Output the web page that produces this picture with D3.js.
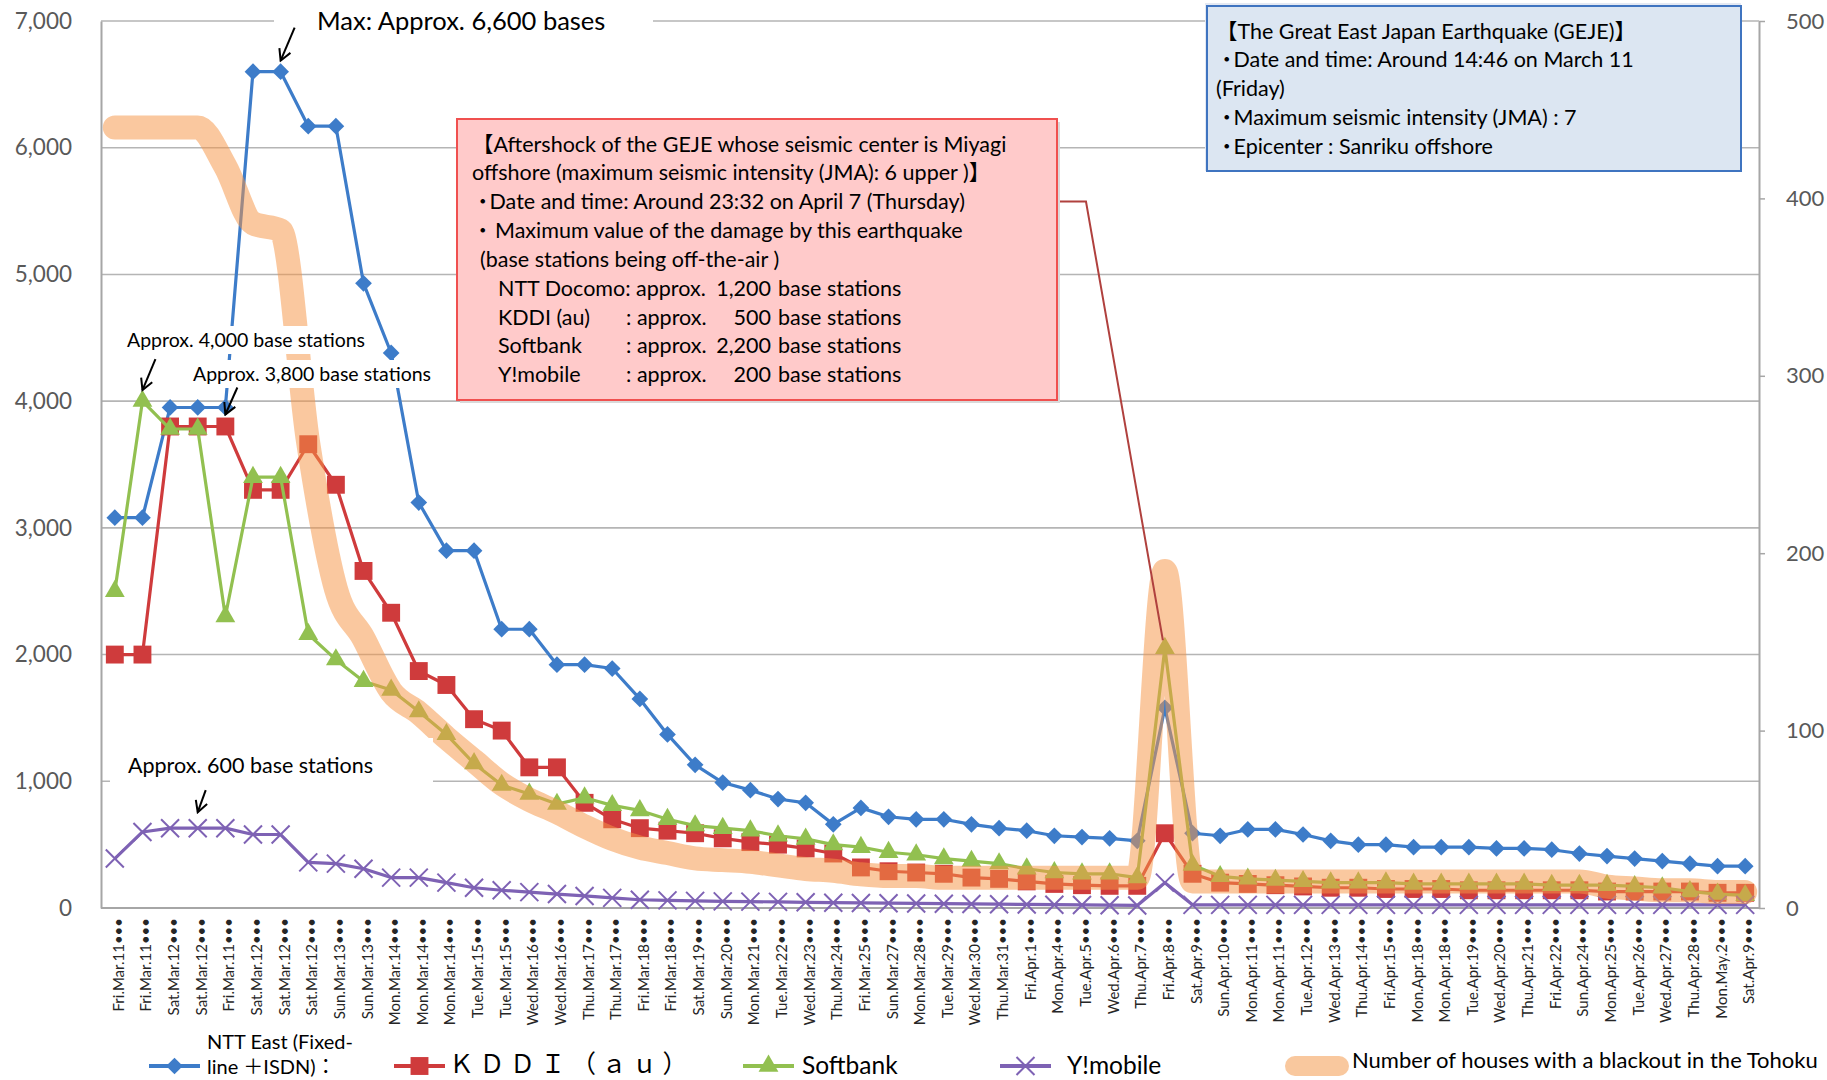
<!DOCTYPE html>
<html>
<head>
<meta charset="utf-8">
<script src="https://cdn.jsdelivr.net/npm/d3@7"></script>
<style>
  body { margin: 0; background: #fff; }
  svg text { font-family: Lato, "Noto Sans CJK JP", sans-serif; }
</style>
</head>
<body>
<svg id="chart" width="1827" height="1080"></svg>
<script>
// categories (as printed on the original x axis, duplicates included)
var dates = ["Fri.Mar.11","Fri.Mar.11","Sat.Mar.12","Sat.Mar.12","Fri.Mar.11","Sat.Mar.12","Sat.Mar.12","Sat.Mar.12",
  "Sun.Mar.13","Sun.Mar.13","Mon.Mar.14","Mon.Mar.14","Mon.Mar.14","Tue.Mar.15","Tue.Mar.15","Wed.Mar.16","Wed.Mar.16",
  "Thu.Mar.17","Thu.Mar.17","Fri.Mar.18","Fri.Mar.18","Sat.Mar.19","Sun.Mar.20","Mon.Mar.21","Tue.Mar.22","Wed.Mar.23",
  "Thu.Mar.24","Fri.Mar.25","Sun.Mar.27","Mon.Mar.28","Tue.Mar.29","Wed.Mar.30","Thu.Mar.31","Fri.Apr.1","Mon.Apr.4",
  "Tue.Apr.5","Wed.Apr.6","Thu.Apr.7","Fri.Apr.8","Sat.Apr.9","Sun.Apr.10","Mon.Apr.11","Mon.Apr.11","Tue.Apr.12",
  "Wed.Apr.13","Thu.Apr.14","Fri.Apr.15","Mon.Apr.18","Mon.Apr.18","Tue.Apr.19","Wed.Apr.20","Thu.Apr.21","Fri.Apr.22",
  "Sun.Apr.24","Mon.Apr.25","Tue.Apr.26","Wed.Apr.27","Thu.Apr.28","Mon.May.2","Sat.Apr.9"];

// base stations out of service (left axis)
var nttEast = [3080,3080,3950,3950,3950,6600,6600,6170,6170,4930,
  4380,3200,2820,2820,2200,2200,1920,1920,1890,1650,
  1370,1130,990,930,860,830,660,790,720,700,
  700,660,630,610,570,560,550,530,1580,590,
  570,620,620,580,530,500,500,480,480,480,
  470,470,460,430,410,390,370,350,330,330];
var kddi = [2000,2000,3800,3800,3800,3300,3300,3660,3340,2660,
  2330,1870,1760,1490,1400,1110,1110,830,700,630,
  610,590,550,520,500,470,430,320,290,280,
  270,240,230,210,190,180,175,175,590,270,
  200,190,180,170,160,160,150,150,150,140,
  140,140,140,140,130,130,130,130,120,120];
var softbank = [2500,4000,3780,3780,2300,3400,3400,2160,1960,1790,
  1720,1550,1370,1140,970,900,820,870,810,770,
  700,650,630,610,570,545,500,480,440,420,
  390,370,350,310,280,270,270,240,2050,340,
  250,230,220,210,200,200,200,190,190,190,
  190,190,180,180,180,170,160,130,110,100];
var ymobile = [390,600,630,630,630,580,580,360,350,310,
  240,240,200,160,140,125,110,95,80,65,
  60,56,52,50,48,45,42,40,38,36,
  34,32,30,28,26,24,22,20,200,25,
  25,25,25,25,25,25,25,25,25,25,
  25,25,25,25,25,25,25,25,25,25];

// houses with a blackout in Tohoku (right axis, 10,000 houses)
var blackout = [440,440,440,440,418,386,382,262,180,152,
  122,110,96,83,70,61,54,46,39,34,
  31,28,27,26,24,22,21,19,18,18,
  17,17,17,17,17,17,17,17,190,15,
  15,15,15,15,15,15,15,15,15,15,
  15,15,15,15,12,11,10,10,9,9];

var leftTicks = [0,1000,2000,3000,4000,5000,6000,7000];
var rightTicks = [0,100,200,300,400,500];

var seriesNames = ["NTT East", "KDDI", "Softbank", "Y!mobile"];
var seriesColors = ["#3d7cc9", "#cf3b3c", "#92c050", "#7e62b4"];
var bandColor = "#f59646";

var gejeLines = ["【The Great East Japan Earthquake (GEJE)】",
  "・Date and time: Around 14:46 on March 11",
  "(Friday)",
  "・Maximum seismic intensity (JMA) : 7",
  "・Epicenter : Sanriku offshore"];
var shockLines = ["【Aftershock of the GEJE whose seismic center is Miyagi",
  "offshore (maximum seismic intensity (JMA): 6 upper )】",
  "・Date and time: Around 23:32 on April 7 (Thursday)",
  "・ Maximum value of the damage by this earthquake",
  " (base stations being off-the-air )"];
var shockCarriers = ["NTT Docomo: approx.", "KDDI (au)", "Softbank", "Y!mobile"];
var shockCounts = ["1,200", "500", "2,200", "200"];

var svg = d3.select("#chart");
var plot = { left: 101, right: 1759, top: 21, bottom: 908 };

function translate(x, y) { return "translate(" + x + "," + y + ")"; }

// leading "・" is a full-width glyph; pull the following text in a little
function boxText(sel, s) {
  if (s.charAt(0) === "・") {
    sel.append("tspan").style("letter-spacing", "-4px").text("・");
    sel.append("tspan").text(s.slice(1));
  } else {
    sel.text(s);
  }
}

var x = d3.scaleBand().domain(d3.range(dates.length)).range([plot.left, plot.right]);
function xc(i) { return x(i) + x.bandwidth() / 2; }
var yL = d3.scaleLinear().domain([0, 7000]).range([plot.bottom, plot.top]);
var yR = d3.scaleLinear().domain([0, 500]).range([plot.bottom, plot.top]);

svg.append("rect").attr("width", 1827).attr("height", 1080).attr("fill", "#fff");

// gridlines
svg.append("g").selectAll("line")
  .data(leftTicks.filter(function(d) { return d > 0; }))
  .join("line")
  .attr("x1", plot.left).attr("x2", plot.right)
  .attr("y1", function(d) { return yL(d); }).attr("y2", function(d) { return yL(d); })
  .attr("stroke", "#b5b5b5").attr("stroke-width", 1.6);

// left axis
var gL = svg.append("g").attr("transform", translate(plot.left, 0))
  .call(d3.axisLeft(yL).tickValues(leftTicks).tickFormat(d3.format(",")).tickSize(0).tickPadding(29));
gL.select(".domain").attr("stroke", "#a6a6a6").attr("stroke-width", 2);
gL.selectAll("text").attr("fill", "#595959").style("font-size", "22.5px");

// right axis
var gR = svg.append("g").attr("transform", translate(plot.right, 0))
  .call(d3.axisRight(yR).tickValues(rightTicks).tickSize(6).tickSizeOuter(0).tickPadding(21));
gR.select(".domain").attr("stroke", "#a6a6a6").attr("stroke-width", 2);
gR.selectAll("line").attr("stroke", "#a6a6a6").attr("stroke-width", 1.5);
gR.selectAll("text").attr("fill", "#595959").style("font-size", "22px");

// bottom axis line
svg.append("line")
  .attr("x1", plot.left).attr("x2", plot.right)
  .attr("y1", yL(0)).attr("y2", yL(0))
  .attr("stroke", "#a6a6a6").attr("stroke-width", 2);

// x labels
svg.append("g").selectAll("text")
  .data(dates)
  .join("text")
  .attr("transform", function(d, i) { return translate(xc(i) + 9, 918) + " rotate(-90)"; })
  .attr("text-anchor", "end")
  .attr("fill", "#262626")
  .style("font-size", "15px")
  .text(function(d) { return d + "•••"; });

// marker shapes
function drawMarker(g, kind, color) {
  if (kind === 0) {
    g.append("path").attr("d", d3.symbol(d3.symbolSquare, 140)()).attr("transform", "rotate(45)").attr("fill", color);
  } else if (kind === 1) {
    g.append("path").attr("d", d3.symbol(d3.symbolSquare, 320)()).attr("fill", color);
  } else if (kind === 2) {
    g.append("path").attr("d", d3.symbol(d3.symbolTriangle, 170)()).attr("fill", color);
  } else {
    g.append("path").attr("d", "M-9,-9L9,9M-9,9L9,-9").attr("stroke", color).attr("stroke-width", 2).attr("fill", "none");
  }
}

var line = d3.line().x(function(d, i) { return xc(i); }).y(function(d) { return yL(d); });
var allSeries = [nttEast, kddi, softbank, ymobile];

allSeries.forEach(function(values, k) {
  var g = svg.append("g").attr("class", "series");
  g.append("path").datum(values)
    .attr("d", line)
    .attr("fill", "none")
    .attr("stroke", seriesColors[k])
    .attr("stroke-width", 3.2)
    .attr("stroke-linejoin", "round");
  g.selectAll("g.mark").data(values).join("g")
    .attr("class", "mark")
    .attr("transform", function(d, i) { return translate(xc(i), yL(d)); })
    .each(function() { drawMarker(d3.select(this), k, seriesColors[k]); });
});

// blackout band (secondary axis), drawn on top and semi-transparent
svg.append("path").datum(blackout)
  .attr("d", d3.line().curve(d3.curveMonotoneX)
    .x(function(d, i) { return xc(i); })
    .y(function(d) { return yR(d); }))
  .attr("fill", "none")
  .attr("stroke", bandColor)
  .attr("stroke-width", 24)
  .attr("stroke-linecap", "round")
  .attr("stroke-linejoin", "round")
  .attr("opacity", 0.52);

// white label backgrounds
var whiteBoxes = [[274, 0, 379, 44], [122, 326, 250, 28], [190, 360, 246, 28], [110, 738, 323, 54]];
svg.append("g").selectAll("rect").data(whiteBoxes).join("rect")
  .attr("x", function(d) { return d[0]; }).attr("y", function(d) { return d[1]; })
  .attr("width", function(d) { return d[2]; }).attr("height", function(d) { return d[3]; })
  .attr("fill", "#fff");

// arrows
svg.append("defs").append("marker")
  .attr("id", "arrow").attr("viewBox", "-12 -7 14 14")
  .attr("refX", 0).attr("refY", 0)
  .attr("markerWidth", 14).attr("markerHeight", 14)
  .attr("markerUnits", "userSpaceOnUse")
  .attr("orient", "auto")
  .append("path").attr("d", "M-11,-6L0,0L-11,6")
  .attr("fill", "none").attr("stroke", "#000").attr("stroke-width", 2);

var arrows = [
  { i: 6, v: 6600, gap: 11, dx: 14, dy: -33 },
  { i: 1, v: 4000, gap: 11, dx: 13, dy: -31 },
  { i: 4, v: 3800, gap: 12, dx: 12, dy: -27 },
  { i: 3, v: 630, gap: 16, dx: 8, dy: -22 }
];
svg.append("g").selectAll("line").data(arrows).join("line")
  .attr("x1", function(d) { return xc(d.i) + d.dx; })
  .attr("y1", function(d) { return yL(d.v) - d.gap + d.dy; })
  .attr("x2", function(d) { return xc(d.i); })
  .attr("y2", function(d) { return yL(d.v) - d.gap; })
  .attr("stroke", "#000").attr("stroke-width", 2)
  .attr("marker-end", "url(#arrow)");

var notes = [
  { text: "Max: Approx. 6,600 bases", x: 317, y: 30, size: 25.5 },
  { text: "Approx. 4,000 base stations", x: 127, y: 347, size: 19.5 },
  { text: "Approx. 3,800 base stations", x: 193, y: 381, size: 19.5 },
  { text: "Approx. 600 base stations", x: 128, y: 773, size: 21.5 }
];
svg.append("g").selectAll("text").data(notes).join("text")
  .attr("x", function(d) { return d.x; }).attr("y", function(d) { return d.y; })
  .style("font-size", function(d) { return d.size + "px"; })
  .attr("fill", "#000")
  .text(function(d) { return d.text; });

// leader from the aftershock box to the Apr 8 peak
svg.append("path")
  .attr("d", d3.line()([[1057, 201.5], [xc(35) + 4, 201.5], [xc(38) - 2, yL(2050) - 8]]))
  .attr("fill", "none").attr("stroke", "#b0413e").attr("stroke-width", 2);

// aftershock box
var shock = svg.append("g").style("font-size", "21.5px");
shock.append("rect").attr("x", 460).attr("y", 122).attr("width", 600).attr("height", 281).attr("fill", "#d9d9d9");
shock.append("rect").attr("x", 457).attr("y", 119).attr("width", 600).attr("height", 281)
  .attr("fill", "#ffcaca").attr("stroke", "#f0504f").attr("stroke-width", 2);
shock.selectAll("text.line").data(shockLines).join("text")
  .attr("class", "line")
  .attr("x", function(d, i) { return i === 4 ? 480 : 472; })
  .attr("y", function(d, i) { return 151.5 + i * 28.8; })
  .each(function(d) { boxText(d3.select(this), d); });
shockCarriers.forEach(function(name, i) {
  var yy = 296 + i * 28.5;
  shock.append("text").attr("x", 498).attr("y", yy).text(name);
  if (i > 0) {
    shock.append("text").attr("x", 626).attr("y", yy).text(": approx.");
  }
  shock.append("text").attr("x", 771).attr("y", yy).attr("text-anchor", "end").text(shockCounts[i]);
  shock.append("text").attr("x", 778).attr("y", yy).text("base stations");
});

// GEJE box
var geje = svg.append("g").style("font-size", "21.5px");
geje.append("rect").attr("x", 1205).attr("y", 3).attr("width", 536).attr("height", 168).attr("fill", "#e4e9f3");
geje.append("rect").attr("x", 1207).attr("y", 6).attr("width", 534).attr("height", 165)
  .attr("fill", "#dce6f2").attr("stroke", "#3f74c0").attr("stroke-width", 2);
geje.selectAll("text").data(gejeLines).join("text")
  .attr("x", 1216)
  .attr("y", function(d, i) { return 38.5 + i * 28.8; })
  .each(function(d) { boxText(d3.select(this), d); });

// legend
var legend = svg.append("g");
var legendX = [149, 394, 743, 1000];
allSeries.forEach(function(values, k) {
  var g = legend.append("g").attr("transform", translate(legendX[k], 1066));
  g.append("line").attr("x1", 0).attr("x2", 51).attr("stroke", seriesColors[k]).attr("stroke-width", 4);
  drawMarker(g.append("g").attr("transform", translate(25.5, 0)), k, seriesColors[k]);
});
legend.append("line").attr("x1", 1295).attr("x2", 1339).attr("y1", 1066).attr("y2", 1066)
  .attr("stroke", bandColor).attr("stroke-width", 20).attr("stroke-linecap", "round").attr("opacity", 0.52);

var lt = legend.append("g").style("font-size", "20px").attr("fill", "#000");
lt.append("text").attr("x", 207).attr("y", 1049).text("NTT East (Fixed-");
lt.append("text").attr("x", 207).attr("y", 1074).text("line ＋ISDN)：");
lt.append("text").attr("x", 449).attr("y", 1073).style("font-size", "25px").style("letter-spacing", "5.5px").text("ＫＤＤＩ（ａｕ）");
lt.append("text").attr("x", 802).attr("y", 1074).style("font-size", "24.5px").text("Softbank");
lt.append("text").attr("x", 1067).attr("y", 1074).style("font-size", "24.5px").text("Y!mobile");
lt.append("text").attr("x", 1352).attr("y", 1068).style("font-size", "22px").text("Number of houses with a blackout in the Tohoku");
</script>
</body>
</html>
